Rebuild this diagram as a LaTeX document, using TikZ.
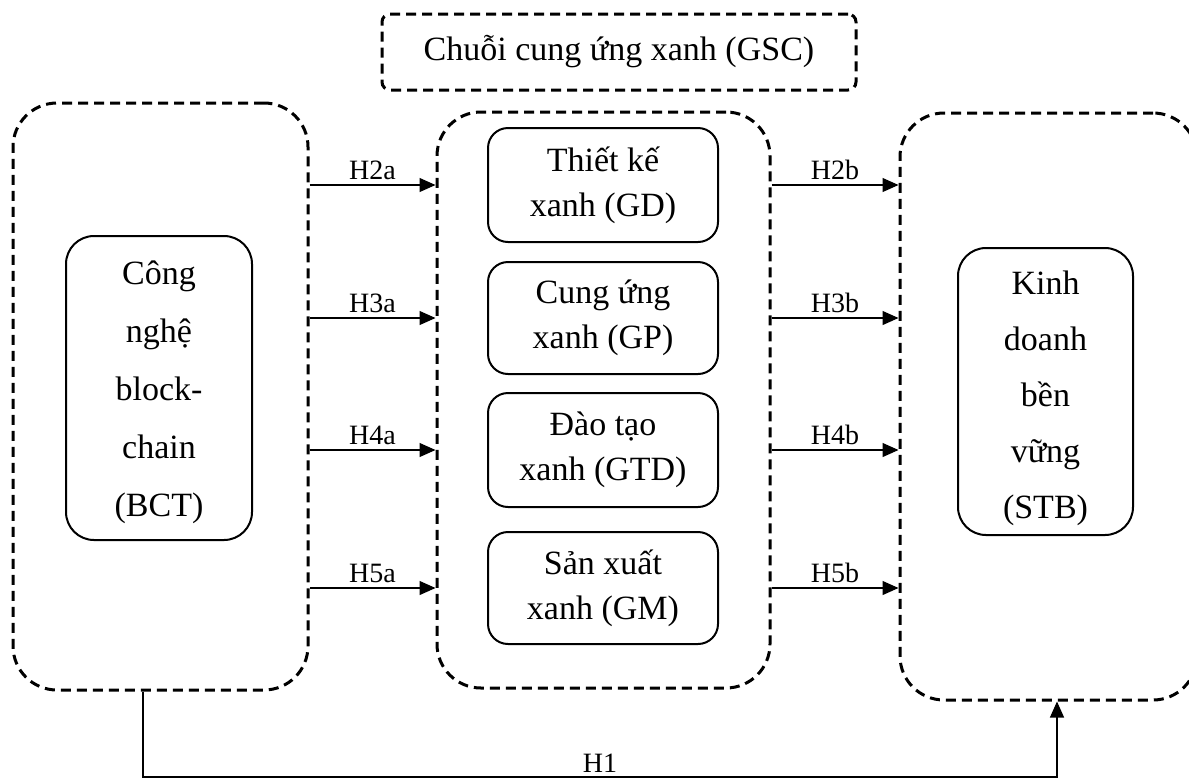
\documentclass[tikz,border=0pt]{standalone}
\usepackage{fontspec}
\setmainfont{Liberation Serif}
\usetikzlibrary{arrows.meta}

\tikzset{
    outerbox/.style={draw, line width=1.5pt, dash pattern=on 5pt off 3pt, rounded corners=22pt},
    innerbox/.style={draw, line width=1pt, rounded corners=10pt, align=center,
        font=\fontsize{17}{22.5}\selectfont, inner sep=0pt},
    tallbox/.style={draw, line width=1pt, rounded corners=14pt},
    hyp/.style={line width=0.6pt, -{Triangle[length=8pt,width=7pt]}},
    lbl/.style={font=\fontsize{14}{16}\selectfont, inner sep=1pt}
}

\begin{document}
\begin{tikzpicture}[x=0.5pt, y=-0.5pt]
            \useasboundingbox (0,0) rectangle (1189,778);

            % title of the middle block
            \node (gsc) at (619,52) [outerbox, rounded corners=4pt, minimum width=237pt, minimum height=38pt,
                font=\fontsize{17}{20}\selectfont] {Chuỗi cung ứng xanh (GSC)};

            % three dashed groups
            \node (bctouter) at (160.5,396.5) [outerbox, minimum width=147.5pt, minimum height=293.5pt]{};
            \node (gscmid) at (603.5,400) [outerbox, minimum width=166.5pt, minimum height=288pt]{};
            \node (stbouter) at (1048.5,406.5) [outerbox, minimum width=148.5pt, minimum height=293.5pt]{};

            % left and right constructs
            \node (bct) at (159,388) [tallbox, minimum width=93pt, minimum height=152pt]{};
            \node (bcttext) at (159,392) [align=center, font=\fontsize{17}{29}\selectfont]
                {Công\\nghệ\\block-\\chain\\(BCT)};
            \node (stb) at (1045.5,391.5) [tallbox, minimum width=87.5pt, minimum height=143.5pt]{};
            \node (stbtext) at (1045.5,398) [align=center, font=\fontsize{17}{28}\selectfont]
                {Kinh\\doanh\\bền\\vững\\(STB)};

            % green supply chain practices
            \node (gd) at (603,185) [innerbox, minimum width=115pt, minimum height=57pt]{Thiết kế\\xanh (GD)};
            \node (gp) at (603,318) [innerbox, minimum width=115pt, minimum height=56pt]{Cung ứng\\xanh (GP)};
            \node (gtd) at (603,450) [innerbox, minimum width=115pt, minimum height=57pt]{Đào tạo\\xanh (GTD)};
            \node (gm) at (603,588) [innerbox, minimum width=115pt, minimum height=56pt]{Sản xuất\\xanh (GM)};

            \draw[hyp] (bctouter.east |- gd) -- node[lbl, above=1.5pt]{H2a} (gscmid.west |- gd);
            \draw[hyp] (bctouter.east |- gp) -- node[lbl, above=1.5pt]{H3a} (gscmid.west |- gp);
            \draw[hyp] (bctouter.east |- gtd) -- node[lbl, above=1.5pt]{H4a} (gscmid.west |- gtd);
            \draw[hyp] (bctouter.east |- gm) -- node[lbl, above=1.5pt]{H5a} (gscmid.west |- gm);

            \draw[hyp] (gscmid.east |- gd) -- node[lbl, above=1.5pt]{H2b} (stbouter.west |- gd);
            \draw[hyp] (gscmid.east |- gp) -- node[lbl, above=1.5pt]{H3b} (stbouter.west |- gp);
            \draw[hyp] (gscmid.east |- gtd) -- node[lbl, above=1.5pt]{H4b} (stbouter.west |- gtd);
            \draw[hyp] (gscmid.east |- gm) -- node[lbl, above=1.5pt]{H5b} (stbouter.west |- gm);

            % direct path
            \coordinate (h1l) at (143,777);
            \coordinate (h1r) at (1057,777);
            \draw[hyp] (bctouter.south -| h1l) -- (h1l) -- node[lbl, above=1pt]{H1} (h1r) -- (stbouter.south -| h1r);
        \end{tikzpicture}
\end{document}
